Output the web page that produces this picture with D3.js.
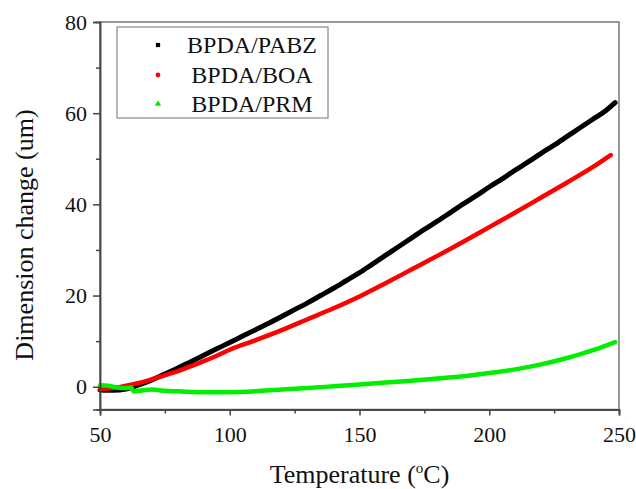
<!DOCTYPE html>
<html><head><meta charset="utf-8">
<script src="https://cdn.jsdelivr.net/npm/d3@7"></script>
<style>
body{margin:0;background:#fff;}
text{font-family:"Liberation Serif","Times New Roman",serif;fill:#111;}
</style></head>
<body>
<svg id="c" width="636" height="489"></svg>
<script>
// ---- data ----
const seriesNames = ["BPDA/PABZ", "BPDA/BOA", "BPDA/PRM"];
const seriesColors = ["#000000", "#ff0000", "#00ee00"];
const pabzT = [50,55,60,65,70,75,80,85,90,95,100,105,110,115,120,125,130,135,140,145,150,155,160,165,170,175,180,185,190,195,200,205,210,215,220,225,230,235,240,245,248.5];
const pabzV = [-0.7,-0.8,-0.5,0.4,1.5,2.8,4.1,5.5,6.9,8.3,9.7,11.1,12.5,13.9,15.4,16.9,18.4,20.0,21.6,23.3,25.0,26.9,28.8,30.7,32.6,34.5,36.3,38.2,40.1,41.9,43.8,45.6,47.5,49.3,51.2,53.0,54.9,56.8,58.7,60.6,62.3];
const boaT = [50,55,60,65,70,75,80,85,90,95,100,110,120,130,140,150,160,170,180,190,200,210,220,230,240,246.8];
const boaV = [-0.5,-0.3,0.2,0.8,1.6,2.5,3.4,4.5,5.6,6.8,8.1,10.2,12.4,14.8,17.2,19.8,22.7,25.7,28.7,31.8,35.0,38.2,41.5,44.8,48.2,50.8];
const prmT = [50,53,56,60,62,63,65,70,75,80,90,100,110,120,130,140,150,160,170,180,190,200,210,220,230,240,248.5];
const prmV = [0.3,0.2,-0.1,-0.3,-0.2,-1.0,-0.9,-0.6,-0.9,-1.0,-1.2,-1.2,-1.0,-0.6,-0.3,0.1,0.5,0.9,1.3,1.8,2.3,3.0,3.8,4.9,6.3,8.0,9.8];
const xTicks = [50,100,150,200,250];
const xMinor = [75,125,175,225];
const yTicks = [0,20,40,60,80];
const yMinor = [10,30,50,70];

const series = [
  {name: seriesNames[0], color: seriesColors[0], pts: pabzT.map((t,i)=>[t,pabzV[i]])},
  {name: seriesNames[1], color: seriesColors[1], pts: boaT.map((t,i)=>[t,boaV[i]])},
  {name: seriesNames[2], color: seriesColors[2], pts: prmT.map((t,i)=>[t,prmV[i]])}
];

const svg = d3.select("#c");
const L=100, R=619, T=22, B=409.5;
const x = d3.scaleLinear().domain([50,250]).range([L,R]);
const y = d3.scaleLinear().domain([-5,80]).range([B,T]);
const axisColor = "#444";

// frame
svg.append("rect").attr("x",L).attr("y",T).attr("width",R-L).attr("height",B-T)
  .attr("fill","none").attr("stroke","#777").attr("stroke-width",1.5);

// lines
const line = d3.line().x(d=>x(d[0])).y(d=>y(d[1])).curve(d3.curveMonotoneX);
series.forEach((s,i)=>{
  svg.append("path").datum(s.pts).attr("d",line).attr("fill","none")
    .attr("stroke",s.color).attr("stroke-width", i===0?5:4.5)
    .attr("stroke-linecap","round").attr("stroke-linejoin","round");
});

// axes
const gx = svg.append("g").attr("transform",`translate(0,${B})`);
gx.call(d3.axisBottom(x).tickValues(xTicks).tickSize(6).tickPadding(9).tickFormat(d3.format("d")));
const gxm = svg.append("g").attr("transform",`translate(0,${B})`);
gxm.call(d3.axisBottom(x).tickValues(xMinor).tickSize(4).tickFormat(""));
const gy = svg.append("g").attr("transform",`translate(${L},0)`);
gy.call(d3.axisLeft(y).tickValues(yTicks).tickSize(7).tickPadding(6).tickFormat(d3.format("d")));
const gym = svg.append("g").attr("transform",`translate(${L},0)`);
gym.call(d3.axisLeft(y).tickValues(yMinor).tickSize(4).tickFormat(""));
[gx,gxm,gy,gym].forEach(g=>{
  g.selectAll("path").attr("stroke",axisColor).attr("stroke-width",1.5);
  g.selectAll("line").attr("stroke",axisColor).attr("stroke-width",1.5);
  g.selectAll("text").attr("font-size",22).attr("fill","#222")
    .attr("font-family","'Liberation Serif','Times New Roman',serif");
});
gx.selectAll("text").attr("dy","0.78em");

// axis titles
const xt = svg.append("text").attr("x",(L+R)/2).attr("y",483).attr("text-anchor","middle")
  .attr("font-size",26);
xt.append("tspan").text("Temperature (");
xt.append("tspan").text("o").attr("font-size",15).attr("dy",-10);
xt.append("tspan").text("C)").attr("dy",10);

svg.append("text").attr("transform","translate(33,235) rotate(-90)")
  .attr("text-anchor","middle").attr("font-size",26).text("Dimension change (um)");

// legend
svg.append("rect").attr("x",117).attr("y",27).attr("width",211).attr("height",91)
  .attr("fill","#fff").attr("stroke","#888").attr("stroke-width",1.2);
const rowsY = [45, 75, 104];
const sym = [d3.symbolSquare, d3.symbolCircle, d3.symbolTriangle];
series.forEach((s,i)=>{
  svg.append("path").attr("d",d3.symbol().type(sym[i]).size(18)())
    .attr("transform",`translate(158,${rowsY[i]})`).attr("fill",s.color);
  svg.append("text").attr("x",252).attr("y",rowsY[i]).attr("dy","0.35em")
    .attr("text-anchor","middle").attr("font-size",24).text(s.name);
});
</script>
</body></html>
